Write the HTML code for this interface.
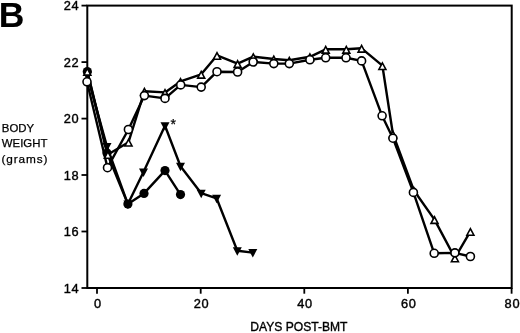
<!DOCTYPE html>
<html><head><meta charset="utf-8"><title>Figure B</title>
<style>
html,body{margin:0;padding:0;background:#fff;}
body{width:520px;height:333px;overflow:hidden;position:relative;}
text{font-family:"Liberation Sans",sans-serif;fill:#000;}
.tk{font-size:12.8px;letter-spacing:0.7px;stroke:#000;stroke-width:0.4px;}
.lab{font-size:11.4px;stroke:#000;stroke-width:0.25px;}
.big{font-size:35.5px;font-weight:bold;}
</style></head><body>
<svg width="520" height="333" viewBox="0 0 520 333" style="position:absolute;left:0;top:0">
<rect x="0" y="0" width="520" height="333" fill="#fff"/>
<rect x="87.3" y="5.6" width="424.4" height="282.4" fill="none" stroke="#000" stroke-width="2"/>
<line x1="81.5" y1="288.0" x2="87" y2="288.0" stroke="#000" stroke-width="1.8"/>
<text x="79.3" y="292.5" text-anchor="end" class="tk">14</text>
<line x1="81.5" y1="231.5" x2="87" y2="231.5" stroke="#000" stroke-width="1.8"/>
<text x="79.3" y="236.0" text-anchor="end" class="tk">16</text>
<line x1="81.5" y1="175.0" x2="87" y2="175.0" stroke="#000" stroke-width="1.8"/>
<text x="79.3" y="179.5" text-anchor="end" class="tk">18</text>
<line x1="81.5" y1="118.6" x2="87" y2="118.6" stroke="#000" stroke-width="1.8"/>
<text x="79.3" y="123.1" text-anchor="end" class="tk">20</text>
<line x1="81.5" y1="62.1" x2="87" y2="62.1" stroke="#000" stroke-width="1.8"/>
<text x="79.3" y="66.6" text-anchor="end" class="tk">22</text>
<line x1="81.5" y1="5.6" x2="87" y2="5.6" stroke="#000" stroke-width="1.8"/>
<text x="79.3" y="10.1" text-anchor="end" class="tk">24</text>
<line x1="97.0" y1="288" x2="97.0" y2="293.7" stroke="#000" stroke-width="1.8"/>
<text x="97.8" y="308.3" text-anchor="middle" class="tk">0</text>
<line x1="200.7" y1="288" x2="200.7" y2="293.7" stroke="#000" stroke-width="1.8"/>
<text x="201.5" y="308.3" text-anchor="middle" class="tk">20</text>
<line x1="304.3" y1="288" x2="304.3" y2="293.7" stroke="#000" stroke-width="1.8"/>
<text x="305.1" y="308.3" text-anchor="middle" class="tk">40</text>
<line x1="407.9" y1="288" x2="407.9" y2="293.7" stroke="#000" stroke-width="1.8"/>
<text x="408.8" y="308.3" text-anchor="middle" class="tk">60</text>
<line x1="511.6" y1="288" x2="511.6" y2="293.7" stroke="#000" stroke-width="1.8"/>
<text x="512.4" y="308.3" text-anchor="middle" class="tk">80</text>
<polyline points="87.3,71.5 107.0,153.0 127.9,204.1 144.0,193.4 165.0,170.6 180.5,194.6" fill="none" stroke="#000" stroke-width="2.4" stroke-linejoin="round"/>
<polyline points="87.3,75.5 107.0,146.6 127.9,204.1 143.5,172.0 165.0,125.7 180.5,166.3 201.2,193.2 216.6,198.3 237.3,250.8 252.8,252.6" fill="none" stroke="#000" stroke-width="2.4" stroke-linejoin="round"/>
<polyline points="87.3,71.3 107.9,154.5 128.5,142.2 144.4,91.3 165.0,92.4 180.5,81.4 201.2,74.3 217.0,55.4 237.6,63.6 253.3,56.7 273.8,59.0 289.3,60.3 309.9,56.8 325.7,49.3 346.3,49.3 361.6,48.3 382.4,65.7 392.9,134.0 413.8,190.2 434.5,219.6 454.9,257.9 470.4,231.4" fill="none" stroke="#000" stroke-width="2.4" stroke-linejoin="round"/>
<polyline points="87.0,81.8 107.5,167.7 128.4,129.5 144.4,95.6 165.0,98.4 180.7,84.9 201.2,87.1 217.0,71.7 237.6,72.0 253.2,62.0 273.8,63.6 289.3,63.6 309.9,59.8 325.7,57.8 346.0,57.8 361.6,60.9 382.1,115.8 392.9,138.2 413.4,192.4 434.2,253.3 454.9,252.9 470.4,256.5" fill="none" stroke="#000" stroke-width="2.4" stroke-linejoin="round"/>
<circle cx="87.3" cy="71.5" r="4.6" fill="#000"/>
<circle cx="107.0" cy="153.0" r="4.6" fill="#000"/>
<circle cx="127.9" cy="204.1" r="4.6" fill="#000"/>
<circle cx="144.0" cy="193.4" r="4.6" fill="#000"/>
<circle cx="165.0" cy="170.6" r="4.6" fill="#000"/>
<circle cx="180.5" cy="194.6" r="4.6" fill="#000"/>
<polygon points="82.8,72.0 91.8,72.0 87.3,80.5" fill="#000"/>
<polygon points="102.5,143.1 111.5,143.1 107.0,151.6" fill="#000"/>
<polygon points="123.4,200.6 132.4,200.6 127.9,209.1" fill="#000"/>
<polygon points="139.0,168.5 148.0,168.5 143.5,177.0" fill="#000"/>
<polygon points="160.5,122.2 169.5,122.2 165.0,130.7" fill="#000"/>
<polygon points="176.0,162.8 185.0,162.8 180.5,171.3" fill="#000"/>
<polygon points="196.7,189.7 205.7,189.7 201.2,198.2" fill="#000"/>
<polygon points="212.1,194.8 221.1,194.8 216.6,203.3" fill="#000"/>
<polygon points="232.8,247.3 241.8,247.3 237.3,255.8" fill="#000"/>
<polygon points="248.3,249.1 257.3,249.1 252.8,257.6" fill="#000"/>
<polygon points="83.8,75.1 90.8,75.1 87.3,68.5" fill="#fff" stroke="#000" stroke-width="1.6"/>
<polygon points="104.4,158.3 111.4,158.3 107.9,151.7" fill="#fff" stroke="#000" stroke-width="1.6"/>
<polygon points="125.0,146.0 132.0,146.0 128.5,139.4" fill="#fff" stroke="#000" stroke-width="1.6"/>
<polygon points="140.9,95.1 147.9,95.1 144.4,88.5" fill="#fff" stroke="#000" stroke-width="1.6"/>
<polygon points="161.5,96.2 168.5,96.2 165.0,89.6" fill="#fff" stroke="#000" stroke-width="1.6"/>
<polygon points="177.0,85.2 184.0,85.2 180.5,78.6" fill="#fff" stroke="#000" stroke-width="1.6"/>
<polygon points="197.7,78.1 204.7,78.1 201.2,71.5" fill="#fff" stroke="#000" stroke-width="1.6"/>
<polygon points="213.5,59.2 220.5,59.2 217.0,52.6" fill="#fff" stroke="#000" stroke-width="1.6"/>
<polygon points="234.1,67.4 241.1,67.4 237.6,60.8" fill="#fff" stroke="#000" stroke-width="1.6"/>
<polygon points="249.8,60.5 256.8,60.5 253.3,53.9" fill="#fff" stroke="#000" stroke-width="1.6"/>
<polygon points="270.3,62.8 277.3,62.8 273.8,56.2" fill="#fff" stroke="#000" stroke-width="1.6"/>
<polygon points="285.8,64.1 292.8,64.1 289.3,57.5" fill="#fff" stroke="#000" stroke-width="1.6"/>
<polygon points="306.4,60.6 313.4,60.6 309.9,54.0" fill="#fff" stroke="#000" stroke-width="1.6"/>
<polygon points="322.2,53.1 329.2,53.1 325.7,46.5" fill="#fff" stroke="#000" stroke-width="1.6"/>
<polygon points="342.8,53.1 349.8,53.1 346.3,46.5" fill="#fff" stroke="#000" stroke-width="1.6"/>
<polygon points="358.1,52.1 365.1,52.1 361.6,45.5" fill="#fff" stroke="#000" stroke-width="1.6"/>
<polygon points="378.9,69.5 385.9,69.5 382.4,62.9" fill="#fff" stroke="#000" stroke-width="1.6"/>
<polygon points="389.4,137.8 396.4,137.8 392.9,131.2" fill="#fff" stroke="#000" stroke-width="1.6"/>
<polygon points="410.3,194.0 417.3,194.0 413.8,187.4" fill="#fff" stroke="#000" stroke-width="1.6"/>
<polygon points="431.0,223.4 438.0,223.4 434.5,216.8" fill="#fff" stroke="#000" stroke-width="1.6"/>
<polygon points="451.4,261.7 458.4,261.7 454.9,255.1" fill="#fff" stroke="#000" stroke-width="1.6"/>
<polygon points="466.9,235.2 473.9,235.2 470.4,228.6" fill="#fff" stroke="#000" stroke-width="1.6"/>
<circle cx="87.0" cy="81.8" r="4.0" fill="#fff" stroke="#000" stroke-width="1.6"/>
<circle cx="107.5" cy="167.7" r="4.0" fill="#fff" stroke="#000" stroke-width="1.6"/>
<circle cx="128.4" cy="129.5" r="4.0" fill="#fff" stroke="#000" stroke-width="1.6"/>
<circle cx="144.4" cy="95.6" r="4.0" fill="#fff" stroke="#000" stroke-width="1.6"/>
<circle cx="165.0" cy="98.4" r="4.0" fill="#fff" stroke="#000" stroke-width="1.6"/>
<circle cx="180.7" cy="84.9" r="4.0" fill="#fff" stroke="#000" stroke-width="1.6"/>
<circle cx="201.2" cy="87.1" r="4.0" fill="#fff" stroke="#000" stroke-width="1.6"/>
<circle cx="217.0" cy="71.7" r="4.0" fill="#fff" stroke="#000" stroke-width="1.6"/>
<circle cx="237.6" cy="72.0" r="4.0" fill="#fff" stroke="#000" stroke-width="1.6"/>
<circle cx="253.2" cy="62.0" r="4.0" fill="#fff" stroke="#000" stroke-width="1.6"/>
<circle cx="273.8" cy="63.6" r="4.0" fill="#fff" stroke="#000" stroke-width="1.6"/>
<circle cx="289.3" cy="63.6" r="4.0" fill="#fff" stroke="#000" stroke-width="1.6"/>
<circle cx="309.9" cy="59.8" r="4.0" fill="#fff" stroke="#000" stroke-width="1.6"/>
<circle cx="325.7" cy="57.8" r="4.0" fill="#fff" stroke="#000" stroke-width="1.6"/>
<circle cx="346.0" cy="57.8" r="4.0" fill="#fff" stroke="#000" stroke-width="1.6"/>
<circle cx="361.6" cy="60.9" r="4.0" fill="#fff" stroke="#000" stroke-width="1.6"/>
<circle cx="382.1" cy="115.8" r="4.0" fill="#fff" stroke="#000" stroke-width="1.6"/>
<circle cx="392.9" cy="138.2" r="4.0" fill="#fff" stroke="#000" stroke-width="1.6"/>
<circle cx="413.4" cy="192.4" r="4.0" fill="#fff" stroke="#000" stroke-width="1.6"/>
<circle cx="434.2" cy="253.3" r="4.0" fill="#fff" stroke="#000" stroke-width="1.6"/>
<circle cx="454.9" cy="252.9" r="4.0" fill="#fff" stroke="#000" stroke-width="1.6"/>
<circle cx="470.4" cy="256.5" r="4.0" fill="#fff" stroke="#000" stroke-width="1.6"/>
<text x="170.5" y="129.3" class="lab" style="font-size:14px">*</text>
<text x="1.8" y="132" class="lab">BODY</text>
<text x="1.8" y="147.3" class="lab">WEIGHT</text>
<text x="1.6" y="162.8" class="lab" style="font-size:11.8px;letter-spacing:0.85px">(grams)</text>
<text x="250.3" y="330.8" class="lab" style="font-size:12.1px;stroke-width:0.35px">DAYS POST-BMT</text>
<text x="-1.2" y="26.6" class="big">B</text>
</svg>
</body></html>
